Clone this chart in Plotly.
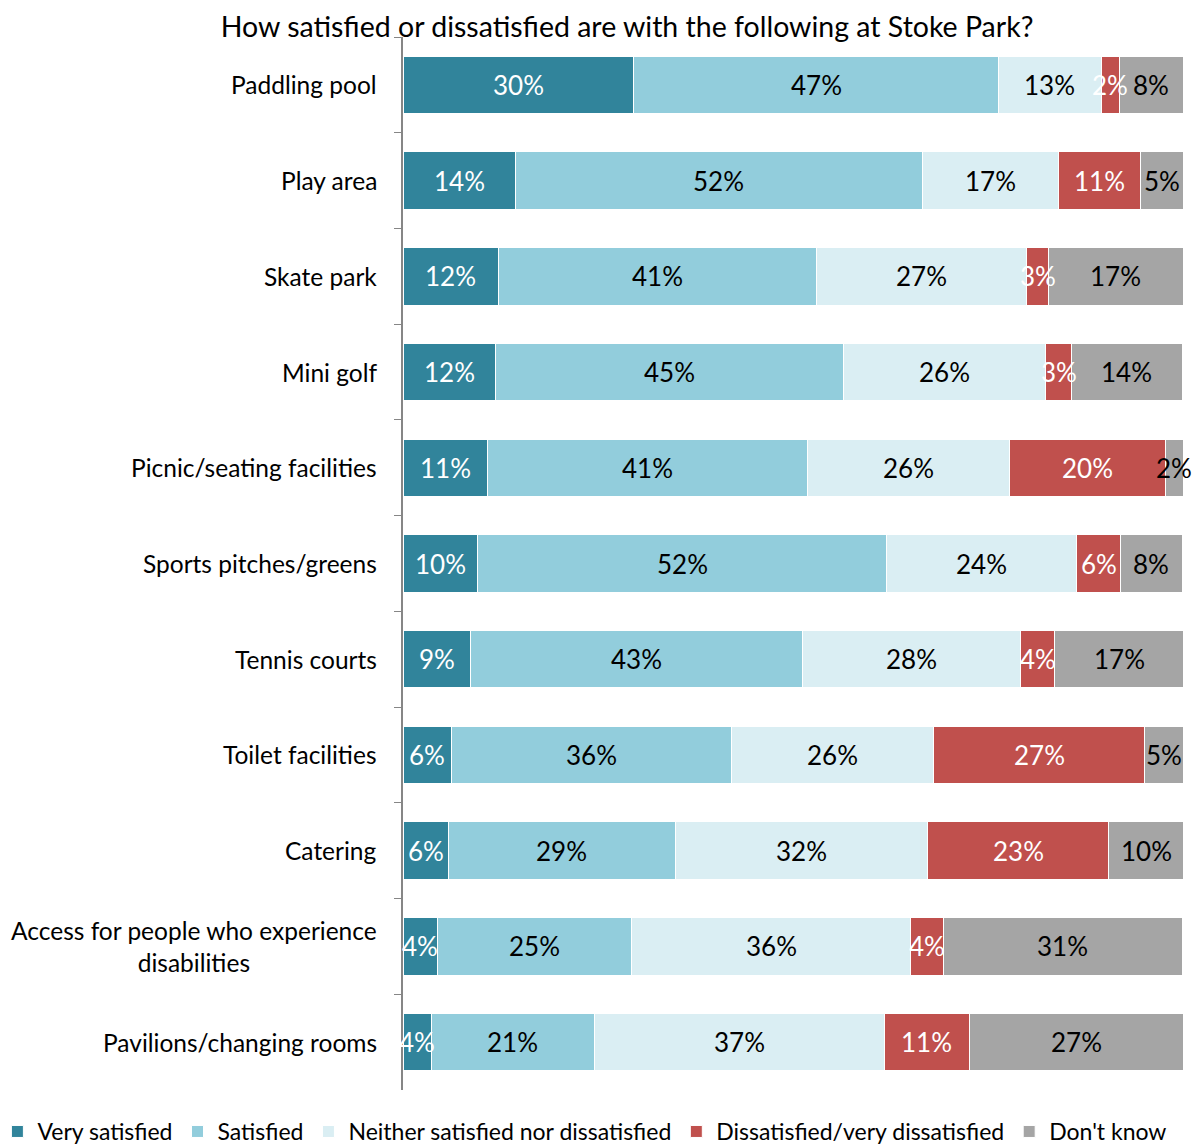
import plotly.graph_objects as go

FONT = "Lato, sans-serif"

categories = [
    "Paddling pool",
    "Play area",
    "Skate park",
    "Mini golf",
    "Picnic/seating facilities",
    "Sports pitches/greens",
    "Tennis courts",
    "Toilet facilities",
    "Catering",
    "Access for people who experience<br>disabilities",
    "Pavilions/changing rooms",
]

very_satisfied = [29.6, 14.4, 12.2, 11.8, 10.8, 9.6, 8.6, 6.2, 5.8, 4.4, 3.6]
satisfied = [46.7, 52.2, 40.8, 44.7, 41.0, 52.4, 42.6, 35.9, 29.1, 24.9, 20.9]
neither = [13.2, 17.4, 26.9, 25.9, 26.0, 24.4, 28.0, 25.9, 32.4, 35.8, 37.2]
dissatisfied = [2.3, 10.6, 2.9, 3.3, 20.0, 5.6, 4.3, 27.1, 23.2, 4.2, 10.9]
dont_know = [8.2, 5.4, 17.2, 14.2, 2.2, 7.9, 16.6, 5.0, 9.6, 30.6, 27.4]

series = [
    ("Very satisfied", very_satisfied, "#31849B", "white"),
    ("Satisfied", satisfied, "#92CDDC", "black"),
    ("Neither satisfied nor dissatisfied", neither, "#DAEEF3", "black"),
    ("Dissatisfied/very dissatisfied", dissatisfied, "#C0504D", "white"),
    ("Don't know", dont_know, "#A5A5A5", "black"),
]

fig = go.Figure()
for name, values, color, _ in series:
    fig.add_trace(
        go.Bar(
            y=categories,
            x=values,
            name=name,
            orientation="h",
            marker=dict(color=color, line=dict(color="white", width=1)),
            hovertemplate=name + ": %{x:.0f}%<extra></extra>",
        )
    )

# value labels on top of all bars, so small ones can spill over
start = [0.0] * len(categories)
for name, values, _, text_color in series:
    for cat, s, v in zip(categories, start, values):
        fig.add_annotation(
            x=s + v / 2, y=cat, xref="x", yref="y",
            text=f"{v:.0f}%", showarrow=False,
            xanchor="center", yanchor="middle",
            font=dict(size=26, color=text_color, family=FONT),
        )
    start = [s + v for s, v in zip(start, values)]

# category labels as annotations so the wrapped one stays centred
for cat in categories:
    fig.add_annotation(
        x=0, y=cat, xref="x", yref="y",
        text=cat, showarrow=False,
        xanchor="right", xshift=-24, align="center",
        font=dict(size=24.5, color="black", family=FONT),
    )

fig.update_layout(
    width=1194,
    height=1140,
    barmode="stack",
    bargap=0.4,
    paper_bgcolor="white",
    plot_bgcolor="white",
    margin=dict(l=395, r=19, t=29, b=58, autoexpand=False),
    font=dict(family=FONT, size=22, color="black"),
    title=dict(
        text="How satisfied or dissatisfied are with the following at Stoke Park?",
        x=0.5185, xanchor="center", y=0.983, yanchor="middle",
        font=dict(size=28.5, color="black", family=FONT),
    ),
    legend=dict(
        orientation="h",
        x=-0.52, xanchor="left",
        y=-0.019, yanchor="top",
        font=dict(size=23, family=FONT),
        traceorder="normal",
    ),
    showlegend=True,
)
fig.update_xaxes(range=[0, 100], visible=False)
fig.update_yaxes(
    range=[len(categories) - 0.5, -0.5],
    showticklabels=False,
    showline=True,
    linecolor="#868686",
    linewidth=1.5,
    ticks="outside",
    tickson="boundaries",
    ticklen=7,
    tickcolor="#868686",
    showgrid=False,
)

fig.write_html("out.html")
